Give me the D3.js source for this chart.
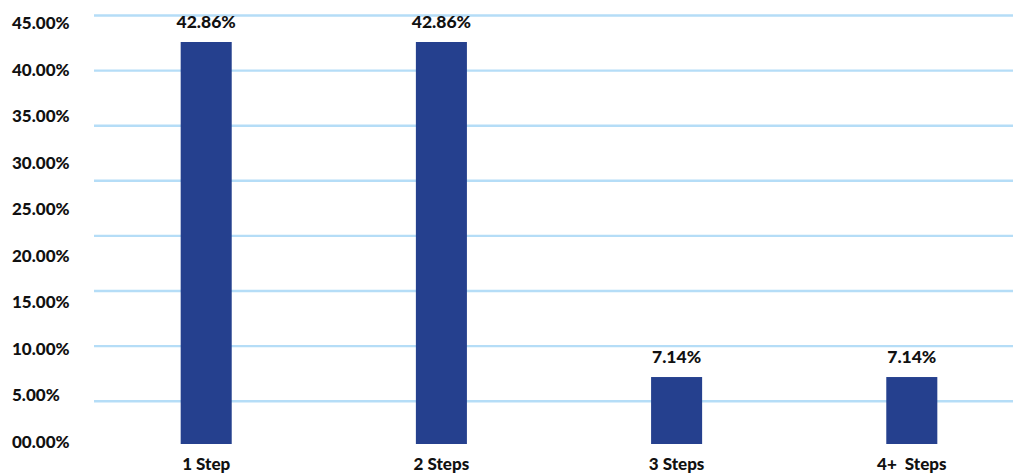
<!DOCTYPE html>
<html>
<head>
<meta charset="utf-8">
<script src="https://cdn.jsdelivr.net/npm/d3@7/dist/d3.min.js"></script>
<style>
  html, body { margin: 0; padding: 0; background: #ffffff; }
  svg { display: block; }
  text { font-family: Lato, "Open Sans", sans-serif; font-weight: 900; fill: #111111; }
</style>
</head>
<body>
<svg id="chart" width="1013" height="475"></svg>
<script>
// ---- data ----
const categories = ["1 Step", "2 Steps", "3 Steps", "4+  Steps"];
const values = [42.86, 42.86, 7.14, 7.14];
const valueLabels = ["42.86%", "42.86%", "7.14%", "7.14%"];
const yTickValues = [0, 5, 10, 15, 20, 25, 30, 35, 40, 45];
const yTickLabels = ["00.00%", "5.00%", "10.00%", "15.00%", "20.00%", "25.00%", "30.00%", "35.00%", "40.00%", "45.00%"];
const gridValues = [10, 15, 20, 25, 30, 35, 40, 45];

const svg = d3.select("#chart");
const W = 1013, H = 475;

// scales
const x = d3.scaleBand().domain(categories).range([88.6, 1029.4]).paddingInner(0.783).paddingOuter(0.3915);
const y = d3.scaleLinear().domain([0, 42.86]).range([444, 42]);
const yLabel = d3.scaleLinear().domain([0, 45]).range([448, 29]);
const yGrid = d3.scaleLinear().domain([10, 45]).range([401.2, 15.5]);

// gridlines
svg.append("g").selectAll("line").data(gridValues).join("line")
  .attr("x1", 94).attr("x2", W)
  .attr("y1", d => yGrid(d)).attr("y2", d => yGrid(d))
  .attr("stroke", "#b5ddf7").attr("stroke-width", 2.4);

// y labels
svg.append("g").selectAll("text").data(yTickValues).join("text")
  .attr("x", 12).attr("y", d => yLabel(d))
  .attr("font-size", 17)
  .text((d, i) => yTickLabels[i]);

// bars
svg.append("g").selectAll("rect").data(values).join("rect")
  .attr("x", (d, i) => x(categories[i]))
  .attr("width", x.bandwidth())
  .attr("y", d => y(d))
  .attr("height", d => y(0) - y(d))
  .attr("fill", "#25408e");

// value labels
svg.append("g").selectAll("text").data(values).join("text")
  .attr("x", (d, i) => x(categories[i]) + x.bandwidth() / 2)
  .attr("y", d => y(d) - 14)
  .attr("text-anchor", "middle")
  .attr("font-size", 17.5)
  .text((d, i) => valueLabels[i]);

// category labels
svg.append("g").selectAll("text").data(categories).join("text")
  .attr("x", d => x(d) + x.bandwidth() / 2)
  .attr("y", 470)
  .attr("text-anchor", "middle")
  .attr("font-size", 17)
  .attr("xml:space", "preserve")
  .style("white-space", "pre")
  .text(d => d);
</script>
</body>
</html>
